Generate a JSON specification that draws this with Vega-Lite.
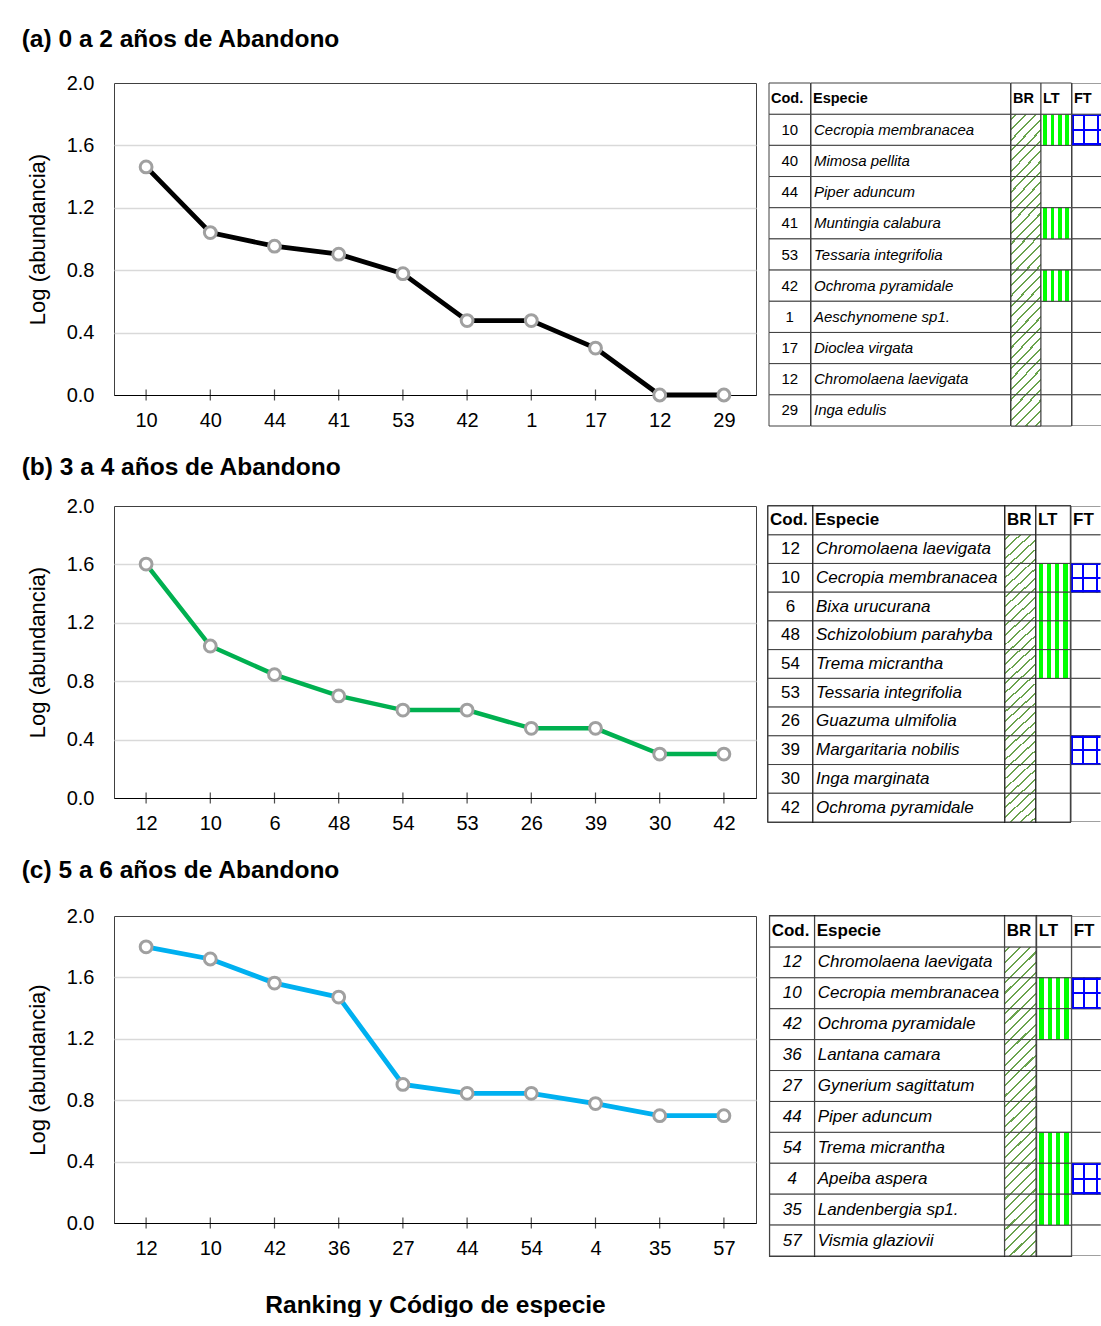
{
"$schema": "https://vega.github.io/schema/vega-lite/v6.json",
"background": "white",
"padding": {"left": 21, "top": 27, "right": 0, "bottom": 0},
"spacing": 24,
"datasets": {"d": [
{"p":"a","rank":1,"cod":"10","especie":"Cecropia membranacea","log":1.462,"br":true,"lt":true,"ft":true},
{"p":"a","rank":2,"cod":"40","especie":"Mimosa pellita","log":1.041,"br":true,"lt":false,"ft":false},
{"p":"a","rank":3,"cod":"44","especie":"Piper aduncum","log":0.954,"br":true,"lt":false,"ft":false},
{"p":"a","rank":4,"cod":"41","especie":"Muntingia calabura","log":0.903,"br":true,"lt":true,"ft":false},
{"p":"a","rank":5,"cod":"53","especie":"Tessaria integrifolia","log":0.778,"br":true,"lt":false,"ft":false},
{"p":"a","rank":6,"cod":"42","especie":"Ochroma pyramidale","log":0.477,"br":true,"lt":true,"ft":false},
{"p":"a","rank":7,"cod":"1","especie":"Aeschynomene sp1.","log":0.477,"br":true,"lt":false,"ft":false},
{"p":"a","rank":8,"cod":"17","especie":"Dioclea virgata","log":0.301,"br":true,"lt":false,"ft":false},
{"p":"a","rank":9,"cod":"12","especie":"Chromolaena laevigata","log":0,"br":true,"lt":false,"ft":false},
{"p":"a","rank":10,"cod":"29","especie":"Inga edulis","log":0,"br":true,"lt":false,"ft":false},
{"p":"b","rank":1,"cod":"12","especie":"Chromolaena laevigata","log":1.602,"br":true,"lt":false,"ft":false},
{"p":"b","rank":2,"cod":"10","especie":"Cecropia membranacea","log":1.041,"br":true,"lt":true,"ft":true},
{"p":"b","rank":3,"cod":"6","especie":"Bixa urucurana","log":0.845,"br":true,"lt":true,"ft":false},
{"p":"b","rank":4,"cod":"48","especie":"Schizolobium parahyba","log":0.699,"br":true,"lt":true,"ft":false},
{"p":"b","rank":5,"cod":"54","especie":"Trema micrantha","log":0.602,"br":true,"lt":true,"ft":false},
{"p":"b","rank":6,"cod":"53","especie":"Tessaria integrifolia","log":0.602,"br":true,"lt":false,"ft":false},
{"p":"b","rank":7,"cod":"26","especie":"Guazuma ulmifolia","log":0.477,"br":true,"lt":false,"ft":false},
{"p":"b","rank":8,"cod":"39","especie":"Margaritaria nobilis","log":0.477,"br":true,"lt":false,"ft":true},
{"p":"b","rank":9,"cod":"30","especie":"Inga marginata","log":0.301,"br":true,"lt":false,"ft":false},
{"p":"b","rank":10,"cod":"42","especie":"Ochroma pyramidale","log":0.301,"br":true,"lt":false,"ft":false},
{"p":"c","rank":1,"cod":"12","especie":"Chromolaena laevigata","log":1.799,"br":true,"lt":false,"ft":false},
{"p":"c","rank":2,"cod":"10","especie":"Cecropia membranacea","log":1.72,"br":true,"lt":true,"ft":true},
{"p":"c","rank":3,"cod":"42","especie":"Ochroma pyramidale","log":1.563,"br":true,"lt":true,"ft":false},
{"p":"c","rank":4,"cod":"36","especie":"Lantana camara","log":1.472,"br":true,"lt":false,"ft":false},
{"p":"c","rank":5,"cod":"27","especie":"Gynerium sagittatum","log":0.903,"br":true,"lt":false,"ft":false},
{"p":"c","rank":6,"cod":"44","especie":"Piper aduncum","log":0.845,"br":true,"lt":false,"ft":false},
{"p":"c","rank":7,"cod":"54","especie":"Trema micrantha","log":0.845,"br":true,"lt":true,"ft":false},
{"p":"c","rank":8,"cod":"4","especie":"Apeiba aspera","log":0.778,"br":true,"lt":true,"ft":true},
{"p":"c","rank":9,"cod":"35","especie":"Landenbergia sp1.","log":0.699,"br":true,"lt":true,"ft":false},
{"p":"c","rank":10,"cod":"57","especie":"Vismia glaziovii","log":0.699,"br":true,"lt":false,"ft":false}
]},
"vconcat": [
{
"title": {"text": "(a) 0 a 2 años de Abandono", "anchor": "start", "fontSize": 24.5, "fontWeight": "bold", "offset": 20, "dx": -4},
"bounds": "flush",
"spacing": 13,
"hconcat": [
{
"width": 642, "height": 312,
"view": {"stroke": "#404040", "strokeWidth": 1},
"data": {"name": "d"}, "transform": [{"filter": "datum.p==='a'"}],
"encoding": {
"x": {"field": "cod", "type": "ordinal", "sort": {"field": "rank", "op": "min"}, "scale": {"type": "point", "padding": 0.5},
 "axis": {"title": null, "labelAngle": 0, "labelFontSize": 20, "labelPadding": 15, "ticks": false, "domainColor": "#000", "domainWidth": 1.2, "grid": false}},
"y": {"field": "log", "type": "quantitative", "scale": {"domain": [0, 2], "nice": false},
 "axis": {"title": "Log (abundancia)", "titleFontSize": 22, "titleFontWeight": "normal", "titlePadding": 17, "values": [0, 0.4, 0.8, 1.2, 1.6, 2], "format": ".1f", "labelFontSize": 20, "labelPadding": 20, "ticks": false, "domain": false, "grid": true, "gridColor": "#d9d9d9", "gridWidth": 1.5, "gridOpacity": {"condition": {"test": "datum.value===0||datum.value===2", "value": 0}, "value": 1}}}
},
"layer": [
{"mark": {"type": "tick", "orient": "vertical", "size": 11, "thickness": 1.2, "color": "#000"}, "encoding": {"y": {"datum": 0}}},
{"mark": {"type": "line", "color": "#000000", "strokeWidth": 4.8}},
{"mark": {"type": "point", "shape": "circle", "filled": true, "fill": "#ffffff", "stroke": "#a0a0a0", "strokeWidth": 3, "size": 140, "opacity": 1}}
]
},
{
"bounds": "flush", "spacing": 0,
"hconcat": [
{"width": 41.5, "height": 343,
 "encoding": {"y": {"field": "rank", "type": "ordinal", "scale": {"domain": [0,1,2,3,4,5,6,7,8,9,10], "paddingInner": 0, "paddingOuter": 0}, "axis": null}, "x": {"datum": 0, "type": "quantitative", "scale": {"domain": [0, 1]}, "axis": null}},
 "layer": [
 {"data": {"name": "d"}, "transform": [{"filter": "datum.p==='a'"}], "mark": {"type": "rect", "fill": "#fff", "stroke": "#404040", "strokeWidth": 1}, "encoding": {"x2": {"datum": 1}}},
 {"data": {"values": [{"rank": 0}]}, "mark": {"type": "rect", "fill": "#fff", "stroke": "#404040", "strokeWidth": 1}, "encoding": {"x2": {"datum": 1}}},
 {"data": {"name": "d"}, "transform": [{"filter": "datum.p==='a'"}], "mark": {"type": "text", "fontSize": 15, "color": "#000"}, "encoding": {"x": {"datum": 0.5}, "text": {"field": "cod"}}},
 {"data": {"values": [{"rank": 0}]}, "mark": {"type": "text", "align": "left", "dx": 2, "fontSize": 14.5, "fontWeight": "bold", "color": "#000"}, "encoding": {"text": {"value": "Cod."}}}
 ]},
{"width": 199.5, "height": 343,
 "encoding": {"y": {"field": "rank", "type": "ordinal", "scale": {"domain": [0,1,2,3,4,5,6,7,8,9,10], "paddingInner": 0, "paddingOuter": 0}, "axis": null}, "x": {"datum": 0, "type": "quantitative", "scale": {"domain": [0, 1]}, "axis": null}},
 "layer": [
 {"data": {"name": "d"}, "transform": [{"filter": "datum.p==='a'"}], "mark": {"type": "rect", "fill": "#fff", "stroke": "#404040", "strokeWidth": 1}, "encoding": {"x2": {"datum": 1}}},
 {"data": {"values": [{"rank": 0}]}, "mark": {"type": "rect", "fill": "#fff", "stroke": "#404040", "strokeWidth": 1}, "encoding": {"x2": {"datum": 1}}},
 {"data": {"name": "d"}, "transform": [{"filter": "datum.p==='a'"}], "mark": {"type": "text", "align": "left", "dx": 3, "fontSize": 15, "fontStyle": "italic", "color": "#000"}, "encoding": {"text": {"field": "especie"}}},
 {"data": {"values": [{"rank": 0}]}, "mark": {"type": "text", "align": "left", "dx": 2, "fontSize": 14.5, "fontWeight": "bold", "color": "#000"}, "encoding": {"text": {"value": "Especie"}}}
 ]},
{"width": 30, "height": 343,
 "encoding": {"y": {"field": "rank", "type": "ordinal", "scale": {"domain": [0,1,2,3,4,5,6,7,8,9,10], "paddingInner": 0, "paddingOuter": 0}, "axis": null}, "x": {"datum": 0, "type": "quantitative", "scale": {"domain": [0, 1]}, "axis": null}},
 "layer": [
 {"data": {"name": "d"}, "transform": [{"filter": "datum.p==='a'"}], "mark": {"type": "rect", "fill": "#fff", "stroke": "#404040", "strokeWidth": 1}, "encoding": {"x2": {"datum": 1}}},
 {"data": {"name": "d"}, "transform": [{"filter": "datum.p==='a' && datum.br"}], "mark": {"type": "rect", "stroke": "#404040", "strokeWidth": 1, "fill": {"gradient": "linear", "x1": 0, "y1": 0, "x2": 1, "y2": 1, "stops": [{"offset":0,"color":"#fff"},{"offset":0.066,"color":"#fff"},{"offset":0.066,"color":"#6aa34d"},{"offset":0.1,"color":"#6aa34d"},{"offset":0.1,"color":"#fff"},{"offset":0.233,"color":"#fff"},{"offset":0.233,"color":"#6aa34d"},{"offset":0.267,"color":"#6aa34d"},{"offset":0.267,"color":"#fff"},{"offset":0.4,"color":"#fff"},{"offset":0.4,"color":"#6aa34d"},{"offset":0.433,"color":"#6aa34d"},{"offset":0.433,"color":"#fff"},{"offset":0.566,"color":"#fff"},{"offset":0.566,"color":"#6aa34d"},{"offset":0.6,"color":"#6aa34d"},{"offset":0.6,"color":"#fff"},{"offset":0.733,"color":"#fff"},{"offset":0.733,"color":"#6aa34d"},{"offset":0.767,"color":"#6aa34d"},{"offset":0.767,"color":"#fff"},{"offset":0.9,"color":"#fff"},{"offset":0.9,"color":"#6aa34d"},{"offset":0.933,"color":"#6aa34d"},{"offset":0.933,"color":"#fff"},{"offset":1,"color":"#fff"}]}}, "encoding": {"x2": {"datum": 1}}},
 {"data": {"values": [{"rank": 0}]}, "mark": {"type": "rect", "fill": "#fff", "stroke": "#404040", "strokeWidth": 1}, "encoding": {"x2": {"datum": 1}}},
 {"data": {"values": [{"rank": 0}]}, "mark": {"type": "text", "align": "left", "dx": 2, "fontSize": 14.5, "fontWeight": "bold", "color": "#000"}, "encoding": {"text": {"value": "BR"}}}
 ]},
{"width": 30.5, "height": 343,
 "encoding": {"y": {"field": "rank", "type": "ordinal", "scale": {"domain": [0,1,2,3,4,5,6,7,8,9,10], "paddingInner": 0, "paddingOuter": 0}, "axis": null}, "x": {"datum": 0, "type": "quantitative", "scale": {"domain": [0, 1]}, "axis": null}},
 "layer": [
 {"data": {"name": "d"}, "transform": [{"filter": "datum.p==='a'"}], "mark": {"type": "rect", "fill": "#fff", "stroke": "#404040", "strokeWidth": 1}, "encoding": {"x2": {"datum": 1}}},
 {"data": {"name": "d"}, "transform": [{"filter": "datum.p==='a' && datum.lt"}], "mark": {"type": "rect", "stroke": "#404040", "strokeWidth": 1, "fill": {"gradient": "linear", "x1": 0, "y1": 0, "x2": 1, "y2": 0, "stops": [{"offset":0,"color":"#fff"},{"offset":0.08,"color":"#fff"},{"offset":0.08,"color":"#00ff00"},{"offset":0.2,"color":"#00ff00"},{"offset":0.2,"color":"#fff"},{"offset":0.32,"color":"#fff"},{"offset":0.32,"color":"#00ff00"},{"offset":0.44,"color":"#00ff00"},{"offset":0.44,"color":"#fff"},{"offset":0.56,"color":"#fff"},{"offset":0.56,"color":"#00ff00"},{"offset":0.68,"color":"#00ff00"},{"offset":0.68,"color":"#fff"},{"offset":0.8,"color":"#fff"},{"offset":0.8,"color":"#00ff00"},{"offset":0.92,"color":"#00ff00"},{"offset":0.92,"color":"#fff"},{"offset":1,"color":"#fff"}]}}, "encoding": {"x2": {"datum": 1}}},
 {"data": {"values": [{"rank": 0}]}, "mark": {"type": "rect", "fill": "#fff", "stroke": "#404040", "strokeWidth": 1}, "encoding": {"x2": {"datum": 1}}},
 {"data": {"values": [{"rank": 0}]}, "mark": {"type": "text", "align": "left", "dx": 2, "fontSize": 14.5, "fontWeight": "bold", "color": "#000"}, "encoding": {"text": {"value": "LT"}}}
 ]},
{"width": 29, "height": 343,
 "encoding": {"y": {"field": "rank", "type": "ordinal", "scale": {"domain": [0,1,2,3,4,5,6,7,8,9,10], "paddingInner": 0, "paddingOuter": 0}, "axis": null}, "x": {"datum": 0, "type": "quantitative", "scale": {"domain": [0, 1]}, "axis": null}},
 "layer": [
 {"data": {"name": "d"}, "transform": [{"filter": "datum.p==='a'"}], "mark": {"type": "rect", "clip": true, "fill": "#fff", "stroke": "#404040", "strokeWidth": 1}, "encoding": {"x2": {"datum": 1.25}}},
 {"data": {"name": "d"}, "transform": [{"filter": "datum.p==='a' && datum.ft"}], "mark": {"type": "rect", "clip": true, "stroke": "#404040", "strokeWidth": 1, "fill": {"gradient": "linear", "x1": 0, "y1": 0, "x2": 1, "y2": 0, "stops": [{"offset":0,"color":"#0000ff"},{"offset":0.055,"color":"#0000ff"},{"offset":0.055,"color":"#fff"},{"offset":0.3,"color":"#fff"},{"offset":0.3,"color":"#0000ff"},{"offset":0.355,"color":"#0000ff"},{"offset":0.355,"color":"#fff"},{"offset":0.68,"color":"#fff"},{"offset":0.68,"color":"#0000ff"},{"offset":0.735,"color":"#0000ff"},{"offset":0.735,"color":"#fff"},{"offset":1,"color":"#fff"}]}}, "encoding": {"x2": {"datum": 1.25}}},
 {"data": {"name": "d"}, "transform": [{"filter": "datum.p==='a' && datum.ft"}], "mark": {"type": "rect", "clip": true, "fill": {"gradient": "linear", "x1": 0, "y1": 0, "x2": 0, "y2": 1, "stops": [{"offset":0,"color":"#0000ff"},{"offset":0.065,"color":"#0000ff"},{"offset":0.065,"color":"rgba(255,255,255,0)"},{"offset":0.468,"color":"rgba(255,255,255,0)"},{"offset":0.468,"color":"#0000ff"},{"offset":0.532,"color":"#0000ff"},{"offset":0.532,"color":"rgba(255,255,255,0)"},{"offset":0.935,"color":"rgba(255,255,255,0)"},{"offset":0.935,"color":"#0000ff"},{"offset":1,"color":"#0000ff"}]}}, "encoding": {"x2": {"datum": 1.25}}},
 {"data": {"values": [{"rank": 0}]}, "mark": {"type": "rect", "clip": true, "fill": "#fff", "stroke": "#404040", "strokeWidth": 1}, "encoding": {"x2": {"datum": 1.25}}},
 {"data": {"values": [{"rank": 0}]}, "mark": {"type": "text", "align": "left", "dx": 2, "fontSize": 14.5, "fontWeight": "bold", "color": "#000"}, "encoding": {"text": {"value": "FT"}}}
 ]}
]
}
]
},
{
"title": {"text": "(b) 3 a 4 años de Abandono", "anchor": "start", "fontSize": 24.5, "fontWeight": "bold", "offset": 15, "dx": -4},
"bounds": "flush",
"spacing": 12,
"hconcat": [
{
"width": 642, "height": 292,
"view": {"stroke": "#404040", "strokeWidth": 1},
"data": {"name": "d"}, "transform": [{"filter": "datum.p==='b'"}],
"encoding": {
"x": {"field": "cod", "type": "ordinal", "sort": {"field": "rank", "op": "min"}, "scale": {"type": "point", "padding": 0.5},
 "axis": {"title": null, "labelAngle": 0, "labelFontSize": 20, "labelPadding": 15, "ticks": false, "domainColor": "#000", "domainWidth": 1.2, "grid": false}},
"y": {"field": "log", "type": "quantitative", "scale": {"domain": [0, 2], "nice": false},
 "axis": {"title": "Log (abundancia)", "titleFontSize": 22, "titleFontWeight": "normal", "titlePadding": 17, "values": [0, 0.4, 0.8, 1.2, 1.6, 2], "format": ".1f", "labelFontSize": 20, "labelPadding": 20, "ticks": false, "domain": false, "grid": true, "gridColor": "#d9d9d9", "gridWidth": 1.5, "gridOpacity": {"condition": {"test": "datum.value===0||datum.value===2", "value": 0}, "value": 1}}}
},
"layer": [
{"mark": {"type": "tick", "orient": "vertical", "size": 11, "thickness": 1.2, "color": "#000"}, "encoding": {"y": {"datum": 0}}},
{"mark": {"type": "line", "color": "#00b050", "strokeWidth": 4.5}},
{"mark": {"type": "point", "shape": "circle", "filled": true, "fill": "#ffffff", "stroke": "#a0a0a0", "strokeWidth": 3, "size": 140, "opacity": 1}}
]
},
{
"bounds": "flush", "spacing": 0,
"hconcat": [
{"width": 45, "height": 316, "view": {"stroke": "#000", "strokeWidth": 1.5},
 "encoding": {"y": {"field": "rank", "type": "ordinal", "scale": {"domain": [0,1,2,3,4,5,6,7,8,9,10], "paddingInner": 0, "paddingOuter": 0}, "axis": null}, "x": {"datum": 0, "type": "quantitative", "scale": {"domain": [0, 1]}, "axis": null}},
 "layer": [
 {"data": {"name": "d"}, "transform": [{"filter": "datum.p==='b'"}], "mark": {"type": "rect", "fill": "#fff", "stroke": "#404040", "strokeWidth": 1}, "encoding": {"x2": {"datum": 1}}},
 {"data": {"values": [{"rank": 0}]}, "mark": {"type": "rect", "fill": "#fff", "stroke": "#404040", "strokeWidth": 1}, "encoding": {"x2": {"datum": 1}}},
 {"data": {"name": "d"}, "transform": [{"filter": "datum.p==='b'"}], "mark": {"type": "text", "fontSize": 17, "color": "#000"}, "encoding": {"x": {"datum": 0.5}, "text": {"field": "cod"}}},
 {"data": {"values": [{"rank": 0}]}, "mark": {"type": "text", "align": "left", "dx": 2, "fontSize": 17, "fontWeight": "bold", "color": "#000"}, "encoding": {"text": {"value": "Cod."}}}
 ]},
{"width": 191.7, "height": 316, "view": {"stroke": "#000", "strokeWidth": 1.5},
 "encoding": {"y": {"field": "rank", "type": "ordinal", "scale": {"domain": [0,1,2,3,4,5,6,7,8,9,10], "paddingInner": 0, "paddingOuter": 0}, "axis": null}, "x": {"datum": 0, "type": "quantitative", "scale": {"domain": [0, 1]}, "axis": null}},
 "layer": [
 {"data": {"name": "d"}, "transform": [{"filter": "datum.p==='b'"}], "mark": {"type": "rect", "fill": "#fff", "stroke": "#404040", "strokeWidth": 1}, "encoding": {"x2": {"datum": 1}}},
 {"data": {"values": [{"rank": 0}]}, "mark": {"type": "rect", "fill": "#fff", "stroke": "#404040", "strokeWidth": 1}, "encoding": {"x2": {"datum": 1}}},
 {"data": {"name": "d"}, "transform": [{"filter": "datum.p==='b'"}], "mark": {"type": "text", "align": "left", "dx": 3, "fontSize": 17, "fontStyle": "italic", "color": "#000"}, "encoding": {"text": {"field": "especie"}}},
 {"data": {"values": [{"rank": 0}]}, "mark": {"type": "text", "align": "left", "dx": 2, "fontSize": 17, "fontWeight": "bold", "color": "#000"}, "encoding": {"text": {"value": "Especie"}}}
 ]},
{"width": 31, "height": 316, "view": {"stroke": "#000", "strokeWidth": 1.5},
 "encoding": {"y": {"field": "rank", "type": "ordinal", "scale": {"domain": [0,1,2,3,4,5,6,7,8,9,10], "paddingInner": 0, "paddingOuter": 0}, "axis": null}, "x": {"datum": 0, "type": "quantitative", "scale": {"domain": [0, 1]}, "axis": null}},
 "layer": [
 {"data": {"name": "d"}, "transform": [{"filter": "datum.p==='b'"}], "mark": {"type": "rect", "fill": "#fff", "stroke": "#404040", "strokeWidth": 1}, "encoding": {"x2": {"datum": 1}}},
 {"data": {"name": "d"}, "transform": [{"filter": "datum.p==='b' && datum.br"}], "mark": {"type": "rect", "stroke": "#404040", "strokeWidth": 1, "fill": {"gradient": "linear", "x1": 0, "y1": 0, "x2": 1, "y2": 1, "stops": [{"offset":0,"color":"#fff"},{"offset":0.066,"color":"#fff"},{"offset":0.066,"color":"#6aa34d"},{"offset":0.1,"color":"#6aa34d"},{"offset":0.1,"color":"#fff"},{"offset":0.233,"color":"#fff"},{"offset":0.233,"color":"#6aa34d"},{"offset":0.267,"color":"#6aa34d"},{"offset":0.267,"color":"#fff"},{"offset":0.4,"color":"#fff"},{"offset":0.4,"color":"#6aa34d"},{"offset":0.433,"color":"#6aa34d"},{"offset":0.433,"color":"#fff"},{"offset":0.566,"color":"#fff"},{"offset":0.566,"color":"#6aa34d"},{"offset":0.6,"color":"#6aa34d"},{"offset":0.6,"color":"#fff"},{"offset":0.733,"color":"#fff"},{"offset":0.733,"color":"#6aa34d"},{"offset":0.767,"color":"#6aa34d"},{"offset":0.767,"color":"#fff"},{"offset":0.9,"color":"#fff"},{"offset":0.9,"color":"#6aa34d"},{"offset":0.933,"color":"#6aa34d"},{"offset":0.933,"color":"#fff"},{"offset":1,"color":"#fff"}]}}, "encoding": {"x2": {"datum": 1}}},
 {"data": {"values": [{"rank": 0}]}, "mark": {"type": "rect", "fill": "#fff", "stroke": "#404040", "strokeWidth": 1}, "encoding": {"x2": {"datum": 1}}},
 {"data": {"values": [{"rank": 0}]}, "mark": {"type": "text", "align": "left", "dx": 2, "fontSize": 17, "fontWeight": "bold", "color": "#000"}, "encoding": {"text": {"value": "BR"}}}
 ]},
{"width": 34.3, "height": 316, "view": {"stroke": "#000", "strokeWidth": 1.5},
 "encoding": {"y": {"field": "rank", "type": "ordinal", "scale": {"domain": [0,1,2,3,4,5,6,7,8,9,10], "paddingInner": 0, "paddingOuter": 0}, "axis": null}, "x": {"datum": 0, "type": "quantitative", "scale": {"domain": [0, 1]}, "axis": null}},
 "layer": [
 {"data": {"name": "d"}, "transform": [{"filter": "datum.p==='b'"}], "mark": {"type": "rect", "fill": "#fff", "stroke": "#404040", "strokeWidth": 1}, "encoding": {"x2": {"datum": 1}}},
 {"data": {"name": "d"}, "transform": [{"filter": "datum.p==='b' && datum.lt"}], "mark": {"type": "rect", "stroke": "#404040", "strokeWidth": 1, "fill": {"gradient": "linear", "x1": 0, "y1": 0, "x2": 1, "y2": 0, "stops": [{"offset":0,"color":"#fff"},{"offset":0.08,"color":"#fff"},{"offset":0.08,"color":"#00ff00"},{"offset":0.2,"color":"#00ff00"},{"offset":0.2,"color":"#fff"},{"offset":0.32,"color":"#fff"},{"offset":0.32,"color":"#00ff00"},{"offset":0.44,"color":"#00ff00"},{"offset":0.44,"color":"#fff"},{"offset":0.56,"color":"#fff"},{"offset":0.56,"color":"#00ff00"},{"offset":0.68,"color":"#00ff00"},{"offset":0.68,"color":"#fff"},{"offset":0.8,"color":"#fff"},{"offset":0.8,"color":"#00ff00"},{"offset":0.92,"color":"#00ff00"},{"offset":0.92,"color":"#fff"},{"offset":1,"color":"#fff"}]}}, "encoding": {"x2": {"datum": 1}}},
 {"data": {"values": [{"rank": 0}]}, "mark": {"type": "rect", "fill": "#fff", "stroke": "#404040", "strokeWidth": 1}, "encoding": {"x2": {"datum": 1}}},
 {"data": {"values": [{"rank": 0}]}, "mark": {"type": "text", "align": "left", "dx": 2, "fontSize": 17, "fontWeight": "bold", "color": "#000"}, "encoding": {"text": {"value": "LT"}}}
 ]},
{"width": 29.5, "height": 316,
 "encoding": {"y": {"field": "rank", "type": "ordinal", "scale": {"domain": [0,1,2,3,4,5,6,7,8,9,10], "paddingInner": 0, "paddingOuter": 0}, "axis": null}, "x": {"datum": 0, "type": "quantitative", "scale": {"domain": [0, 1]}, "axis": null}},
 "layer": [
 {"data": {"name": "d"}, "transform": [{"filter": "datum.p==='b'"}], "mark": {"type": "rect", "clip": true, "fill": "#fff", "stroke": "#404040", "strokeWidth": 1}, "encoding": {"x2": {"datum": 1.25}}},
 {"data": {"name": "d"}, "transform": [{"filter": "datum.p==='b' && datum.ft"}], "mark": {"type": "rect", "clip": true, "stroke": "#404040", "strokeWidth": 1, "fill": {"gradient": "linear", "x1": 0, "y1": 0, "x2": 1, "y2": 0, "stops": [{"offset":0,"color":"#0000ff"},{"offset":0.055,"color":"#0000ff"},{"offset":0.055,"color":"#fff"},{"offset":0.3,"color":"#fff"},{"offset":0.3,"color":"#0000ff"},{"offset":0.355,"color":"#0000ff"},{"offset":0.355,"color":"#fff"},{"offset":0.68,"color":"#fff"},{"offset":0.68,"color":"#0000ff"},{"offset":0.735,"color":"#0000ff"},{"offset":0.735,"color":"#fff"},{"offset":1,"color":"#fff"}]}}, "encoding": {"x2": {"datum": 1.25}}},
 {"data": {"name": "d"}, "transform": [{"filter": "datum.p==='b' && datum.ft"}], "mark": {"type": "rect", "clip": true, "fill": {"gradient": "linear", "x1": 0, "y1": 0, "x2": 0, "y2": 1, "stops": [{"offset":0,"color":"#0000ff"},{"offset":0.065,"color":"#0000ff"},{"offset":0.065,"color":"rgba(255,255,255,0)"},{"offset":0.468,"color":"rgba(255,255,255,0)"},{"offset":0.468,"color":"#0000ff"},{"offset":0.532,"color":"#0000ff"},{"offset":0.532,"color":"rgba(255,255,255,0)"},{"offset":0.935,"color":"rgba(255,255,255,0)"},{"offset":0.935,"color":"#0000ff"},{"offset":1,"color":"#0000ff"}]}}, "encoding": {"x2": {"datum": 1.25}}},
 {"data": {"values": [{"rank": 0}]}, "mark": {"type": "rect", "clip": true, "fill": "#fff", "stroke": "#404040", "strokeWidth": 1}, "encoding": {"x2": {"datum": 1.25}}},
 {"data": {"values": [{"rank": 0}]}, "mark": {"type": "text", "align": "left", "dx": 2, "fontSize": 17, "fontWeight": "bold", "color": "#000"}, "encoding": {"text": {"value": "FT"}}}
 ]}
]
}
]
},
{
"title": {"text": "(c) 5 a 6 años de Abandono", "anchor": "start", "fontSize": 24.5, "fontWeight": "bold", "offset": 22, "dx": -4},
"bounds": "flush",
"spacing": 13.7,
"hconcat": [
{
"width": 642, "height": 307,
"view": {"stroke": "#404040", "strokeWidth": 1},
"data": {"name": "d"}, "transform": [{"filter": "datum.p==='c'"}],
"encoding": {
"x": {"field": "cod", "type": "ordinal", "sort": {"field": "rank", "op": "min"}, "scale": {"type": "point", "padding": 0.5},
 "axis": {"title": "Ranking y Código de especie", "titleFontSize": 24.5, "titleFontWeight": "bold", "titlePadding": 35, "labelAngle": 0, "labelFontSize": 20, "labelPadding": 15, "ticks": false, "domainColor": "#000", "domainWidth": 1.2, "grid": false}},
"y": {"field": "log", "type": "quantitative", "scale": {"domain": [0, 2], "nice": false},
 "axis": {"title": "Log (abundancia)", "titleFontSize": 22, "titleFontWeight": "normal", "titlePadding": 17, "values": [0, 0.4, 0.8, 1.2, 1.6, 2], "format": ".1f", "labelFontSize": 20, "labelPadding": 20, "ticks": false, "domain": false, "grid": true, "gridColor": "#d9d9d9", "gridWidth": 1.5, "gridOpacity": {"condition": {"test": "datum.value===0||datum.value===2", "value": 0}, "value": 1}}}
},
"layer": [
{"mark": {"type": "tick", "orient": "vertical", "size": 11, "thickness": 1.2, "color": "#000"}, "encoding": {"y": {"datum": 0}}},
{"mark": {"type": "line", "color": "#00b0f0", "strokeWidth": 4.8}},
{"mark": {"type": "point", "shape": "circle", "filled": true, "fill": "#ffffff", "stroke": "#a0a0a0", "strokeWidth": 3, "size": 140, "opacity": 1}}
]
},
{
"bounds": "flush", "spacing": 0,
"hconcat": [
{"width": 45, "height": 340, "view": {"stroke": "#000", "strokeWidth": 1.5},
 "encoding": {"y": {"field": "rank", "type": "ordinal", "scale": {"domain": [0,1,2,3,4,5,6,7,8,9,10], "paddingInner": 0, "paddingOuter": 0}, "axis": null}, "x": {"datum": 0, "type": "quantitative", "scale": {"domain": [0, 1]}, "axis": null}},
 "layer": [
 {"data": {"name": "d"}, "transform": [{"filter": "datum.p==='c'"}], "mark": {"type": "rect", "fill": "#fff", "stroke": "#404040", "strokeWidth": 1}, "encoding": {"x2": {"datum": 1}}},
 {"data": {"values": [{"rank": 0}]}, "mark": {"type": "rect", "fill": "#fff", "stroke": "#404040", "strokeWidth": 1}, "encoding": {"x2": {"datum": 1}}},
 {"data": {"name": "d"}, "transform": [{"filter": "datum.p==='c'"}], "mark": {"type": "text", "fontSize": 17, "fontStyle": "italic", "color": "#000"}, "encoding": {"x": {"datum": 0.5}, "text": {"field": "cod"}}},
 {"data": {"values": [{"rank": 0}]}, "mark": {"type": "text", "align": "left", "dx": 2, "fontSize": 17, "fontWeight": "bold", "color": "#000"}, "encoding": {"text": {"value": "Cod."}}}
 ]},
{"width": 190, "height": 340, "view": {"stroke": "#000", "strokeWidth": 1.5},
 "encoding": {"y": {"field": "rank", "type": "ordinal", "scale": {"domain": [0,1,2,3,4,5,6,7,8,9,10], "paddingInner": 0, "paddingOuter": 0}, "axis": null}, "x": {"datum": 0, "type": "quantitative", "scale": {"domain": [0, 1]}, "axis": null}},
 "layer": [
 {"data": {"name": "d"}, "transform": [{"filter": "datum.p==='c'"}], "mark": {"type": "rect", "fill": "#fff", "stroke": "#404040", "strokeWidth": 1}, "encoding": {"x2": {"datum": 1}}},
 {"data": {"values": [{"rank": 0}]}, "mark": {"type": "rect", "fill": "#fff", "stroke": "#404040", "strokeWidth": 1}, "encoding": {"x2": {"datum": 1}}},
 {"data": {"name": "d"}, "transform": [{"filter": "datum.p==='c'"}], "mark": {"type": "text", "align": "left", "dx": 3, "fontSize": 17, "fontStyle": "italic", "color": "#000"}, "encoding": {"text": {"field": "especie"}}},
 {"data": {"values": [{"rank": 0}]}, "mark": {"type": "text", "align": "left", "dx": 2, "fontSize": 17, "fontWeight": "bold", "color": "#000"}, "encoding": {"text": {"value": "Especie"}}}
 ]},
{"width": 31.3, "height": 340, "view": {"stroke": "#000", "strokeWidth": 1.5},
 "encoding": {"y": {"field": "rank", "type": "ordinal", "scale": {"domain": [0,1,2,3,4,5,6,7,8,9,10], "paddingInner": 0, "paddingOuter": 0}, "axis": null}, "x": {"datum": 0, "type": "quantitative", "scale": {"domain": [0, 1]}, "axis": null}},
 "layer": [
 {"data": {"name": "d"}, "transform": [{"filter": "datum.p==='c'"}], "mark": {"type": "rect", "fill": "#fff", "stroke": "#404040", "strokeWidth": 1}, "encoding": {"x2": {"datum": 1}}},
 {"data": {"name": "d"}, "transform": [{"filter": "datum.p==='c' && datum.br"}], "mark": {"type": "rect", "stroke": "#404040", "strokeWidth": 1, "fill": {"gradient": "linear", "x1": 0, "y1": 0, "x2": 1, "y2": 1, "stops": [{"offset":0,"color":"#fff"},{"offset":0.066,"color":"#fff"},{"offset":0.066,"color":"#6aa34d"},{"offset":0.1,"color":"#6aa34d"},{"offset":0.1,"color":"#fff"},{"offset":0.233,"color":"#fff"},{"offset":0.233,"color":"#6aa34d"},{"offset":0.267,"color":"#6aa34d"},{"offset":0.267,"color":"#fff"},{"offset":0.4,"color":"#fff"},{"offset":0.4,"color":"#6aa34d"},{"offset":0.433,"color":"#6aa34d"},{"offset":0.433,"color":"#fff"},{"offset":0.566,"color":"#fff"},{"offset":0.566,"color":"#6aa34d"},{"offset":0.6,"color":"#6aa34d"},{"offset":0.6,"color":"#fff"},{"offset":0.733,"color":"#fff"},{"offset":0.733,"color":"#6aa34d"},{"offset":0.767,"color":"#6aa34d"},{"offset":0.767,"color":"#fff"},{"offset":0.9,"color":"#fff"},{"offset":0.9,"color":"#6aa34d"},{"offset":0.933,"color":"#6aa34d"},{"offset":0.933,"color":"#fff"},{"offset":1,"color":"#fff"}]}}, "encoding": {"x2": {"datum": 1}}},
 {"data": {"values": [{"rank": 0}]}, "mark": {"type": "rect", "fill": "#fff", "stroke": "#404040", "strokeWidth": 1}, "encoding": {"x2": {"datum": 1}}},
 {"data": {"values": [{"rank": 0}]}, "mark": {"type": "text", "align": "left", "dx": 2, "fontSize": 17, "fontWeight": "bold", "color": "#000"}, "encoding": {"text": {"value": "BR"}}}
 ]},
{"width": 34.7, "height": 340, "view": {"stroke": "#000", "strokeWidth": 1.5},
 "encoding": {"y": {"field": "rank", "type": "ordinal", "scale": {"domain": [0,1,2,3,4,5,6,7,8,9,10], "paddingInner": 0, "paddingOuter": 0}, "axis": null}, "x": {"datum": 0, "type": "quantitative", "scale": {"domain": [0, 1]}, "axis": null}},
 "layer": [
 {"data": {"name": "d"}, "transform": [{"filter": "datum.p==='c'"}], "mark": {"type": "rect", "fill": "#fff", "stroke": "#404040", "strokeWidth": 1}, "encoding": {"x2": {"datum": 1}}},
 {"data": {"name": "d"}, "transform": [{"filter": "datum.p==='c' && datum.lt"}], "mark": {"type": "rect", "stroke": "#404040", "strokeWidth": 1, "fill": {"gradient": "linear", "x1": 0, "y1": 0, "x2": 1, "y2": 0, "stops": [{"offset":0,"color":"#fff"},{"offset":0.08,"color":"#fff"},{"offset":0.08,"color":"#00ff00"},{"offset":0.2,"color":"#00ff00"},{"offset":0.2,"color":"#fff"},{"offset":0.32,"color":"#fff"},{"offset":0.32,"color":"#00ff00"},{"offset":0.44,"color":"#00ff00"},{"offset":0.44,"color":"#fff"},{"offset":0.56,"color":"#fff"},{"offset":0.56,"color":"#00ff00"},{"offset":0.68,"color":"#00ff00"},{"offset":0.68,"color":"#fff"},{"offset":0.8,"color":"#fff"},{"offset":0.8,"color":"#00ff00"},{"offset":0.92,"color":"#00ff00"},{"offset":0.92,"color":"#fff"},{"offset":1,"color":"#fff"}]}}, "encoding": {"x2": {"datum": 1}}},
 {"data": {"values": [{"rank": 0}]}, "mark": {"type": "rect", "fill": "#fff", "stroke": "#404040", "strokeWidth": 1}, "encoding": {"x2": {"datum": 1}}},
 {"data": {"values": [{"rank": 0}]}, "mark": {"type": "text", "align": "left", "dx": 2, "fontSize": 17, "fontWeight": "bold", "color": "#000"}, "encoding": {"text": {"value": "LT"}}}
 ]},
{"width": 29, "height": 340,
 "encoding": {"y": {"field": "rank", "type": "ordinal", "scale": {"domain": [0,1,2,3,4,5,6,7,8,9,10], "paddingInner": 0, "paddingOuter": 0}, "axis": null}, "x": {"datum": 0, "type": "quantitative", "scale": {"domain": [0, 1]}, "axis": null}},
 "layer": [
 {"data": {"name": "d"}, "transform": [{"filter": "datum.p==='c'"}], "mark": {"type": "rect", "clip": true, "fill": "#fff", "stroke": "#404040", "strokeWidth": 1}, "encoding": {"x2": {"datum": 1.25}}},
 {"data": {"name": "d"}, "transform": [{"filter": "datum.p==='c' && datum.ft"}], "mark": {"type": "rect", "clip": true, "stroke": "#404040", "strokeWidth": 1, "fill": {"gradient": "linear", "x1": 0, "y1": 0, "x2": 1, "y2": 0, "stops": [{"offset":0,"color":"#0000ff"},{"offset":0.055,"color":"#0000ff"},{"offset":0.055,"color":"#fff"},{"offset":0.3,"color":"#fff"},{"offset":0.3,"color":"#0000ff"},{"offset":0.355,"color":"#0000ff"},{"offset":0.355,"color":"#fff"},{"offset":0.68,"color":"#fff"},{"offset":0.68,"color":"#0000ff"},{"offset":0.735,"color":"#0000ff"},{"offset":0.735,"color":"#fff"},{"offset":1,"color":"#fff"}]}}, "encoding": {"x2": {"datum": 1.25}}},
 {"data": {"name": "d"}, "transform": [{"filter": "datum.p==='c' && datum.ft"}], "mark": {"type": "rect", "clip": true, "fill": {"gradient": "linear", "x1": 0, "y1": 0, "x2": 0, "y2": 1, "stops": [{"offset":0,"color":"#0000ff"},{"offset":0.065,"color":"#0000ff"},{"offset":0.065,"color":"rgba(255,255,255,0)"},{"offset":0.468,"color":"rgba(255,255,255,0)"},{"offset":0.468,"color":"#0000ff"},{"offset":0.532,"color":"#0000ff"},{"offset":0.532,"color":"rgba(255,255,255,0)"},{"offset":0.935,"color":"rgba(255,255,255,0)"},{"offset":0.935,"color":"#0000ff"},{"offset":1,"color":"#0000ff"}]}}, "encoding": {"x2": {"datum": 1.25}}},
 {"data": {"values": [{"rank": 0}]}, "mark": {"type": "rect", "clip": true, "fill": "#fff", "stroke": "#404040", "strokeWidth": 1}, "encoding": {"x2": {"datum": 1.25}}},
 {"data": {"values": [{"rank": 0}]}, "mark": {"type": "text", "align": "left", "dx": 2, "fontSize": 17, "fontWeight": "bold", "color": "#000"}, "encoding": {"text": {"value": "FT"}}}
 ]}
]
}
]
}
],
"config": {
"font": "Liberation Sans",
"view": {"stroke": null},
"axis": {"labelFont": "Liberation Sans", "titleFont": "Liberation Sans", "labelColor": "#000", "titleColor": "#000"},
"title": {"font": "Liberation Sans", "color": "#000"},
"text": {"font": "Liberation Sans"}
}
}
